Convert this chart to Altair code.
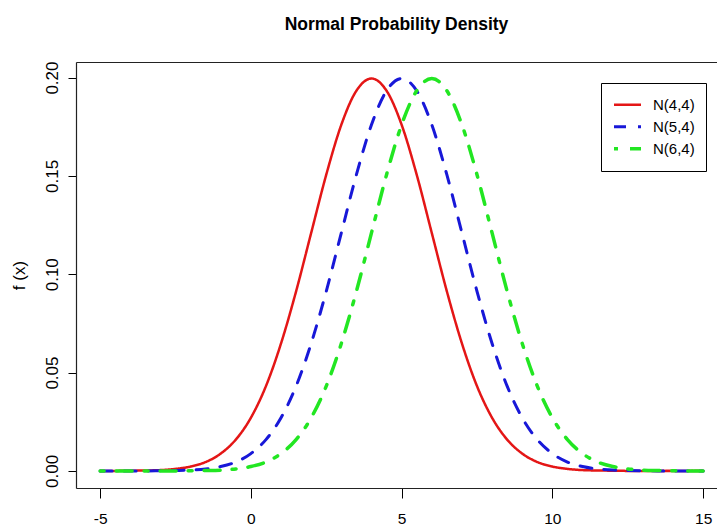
import altair as alt
import numpy as np
import pandas as pd

# Series shown in the legend and their means (variance 4 for all)
series = ["N(4,4)", "N(5,4)", "N(6,4)"]
means = [4, 5, 6]
colors = ["#e41616", "#1818d8", "#22e622"]
dashes = [[1, 0], [12, 12], [4, 12, 16, 12]]
widths = [2.5, 3.5, 4.5]

# Density at distances 0, 0.5, 1.0, ... from the mean
density_profile = [0.1995, 0.1933, 0.1760, 0.1506, 0.1210, 0.0913, 0.0648,
                   0.0431, 0.0270, 0.0159, 0.0088, 0.0045, 0.0022, 0.0010,
                   0.0004, 0.0002, 0.0001, 0.0, 0.0, 0.0, 0.0, 0.0, 0.0]

x_ticks = [-5, 0, 5, 10, 15]
y_ticks = [0.0, 0.05, 0.10, 0.15, 0.20]

x_grid = np.arange(-5, 15.01, 0.5)
rows = []
for name, m in zip(series, means):
    for x in x_grid:
        k = int(round(abs(x - m) / 0.5))
        rows.append({"x": float(x), "fx": density_profile[k], "dist": name})
df = pd.DataFrame(rows)

font = "Liberation Sans"

xscale = alt.Scale(domain=[-5.8, 15.46], nice=False, zero=False)
yscale = alt.Scale(domain=[-0.0087, 0.2079], nice=False, zero=False)

curves = alt.Chart(df).mark_line(interpolate="monotone", strokeCap="round").encode(
    x=alt.X("x:Q", scale=xscale,
            axis=alt.Axis(values=x_ticks, title=None, grid=False, tickSize=10,
                          labelPadding=13, labelFont=font, labelFontSize=15.5,
                          labelColor="black", tickColor="black",
                          domainColor="#222", domainWidth=1.2,
                          labelExpr="'' + datum.value")),
    y=alt.Y("fx:Q", scale=yscale,
            axis=alt.Axis(values=y_ticks, format=".2f", grid=False, tickSize=8,
                          labelAngle=-90, labelAlign="center",
                          labelBaseline="alphabetic", labelPadding=11,
                          labelFont=font, labelFontSize=17, labelColor="black",
                          tickColor="black", domainColor="#222", domainWidth=1.2,
                          title="f (x)", titleFont=font, titleFontSize=17,
                          titleFontWeight="normal", titleColor="black",
                          titleAngle=270, titleAlign="center",
                          titleBaseline="alphabetic", titleX=-52, titleY=213)),
    color=alt.Color("dist:N", scale=alt.Scale(domain=series, range=colors),
                    legend=alt.Legend(title=None, orient="none", legendX=525,
                                      legendY=21, strokeColor="black",
                                      padding=11, symbolType="stroke",
                                      symbolSize=729, symbolStrokeWidth=4,
                                      clipHeight=21.6,
                                      labelFont=font, labelFontSize=15,
                                      labelColor="black", labelOffset=10,
                                      rowPadding=0, fillColor="white")),
    strokeDash=alt.StrokeDash("dist:N", scale=alt.Scale(domain=series, range=dashes)),
    strokeWidth=alt.StrokeWidth("dist:N", scale=alt.Scale(domain=series, range=widths),
                                legend=None),
    order=alt.Order("dist:N"),
)

# Invisible copy whose top axis draws the upper border of the plot frame
frame_top = alt.Chart(df).mark_line(opacity=0).encode(
    x=alt.X("x:Q", scale=xscale,
            axis=alt.Axis(orient="top", labels=False, ticks=False, grid=False,
                          title=None, domainColor="#222", domainWidth=1.2,
                          minExtent=0, maxExtent=0)),
    y=alt.Y("fx:Q", scale=yscale, axis=None),
)

chart = alt.layer(frame_top, curves).resolve_axis(
    x="independent", y="independent"
).properties(
    width=641,
    height=426,
    title=alt.TitleParams("Normal Probability Density", anchor="middle",
                          frame="group", font=font, fontSize=17.5,
                          fontWeight="bold", color="black",
                          baseline="alphabetic", offset=13),
    autosize=alt.AutoSizeParams(type="none"),
    padding={"left": 76, "top": 62, "right": 0, "bottom": 41},
).configure_view(stroke=None).configure(background="white")

chart.save("out.html", embed_options={"renderer": "svg", "actions": False})
